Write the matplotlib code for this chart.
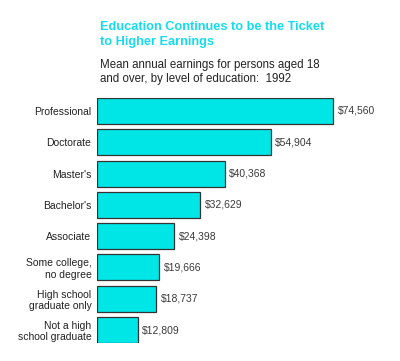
import matplotlib
matplotlib.use("Agg")
import matplotlib.pyplot as plt

# data
levels = ["Professional", "Doctorate", "Master's", "Bachelor's", "Associate",
          "Some college,\nno degree", "High school\ngraduate only",
          "Not a high\nschool graduate"]
earnings = [74560, 54904, 40368, 32629, 24398, 19666, 18737, 12809]

plt.rcParams["font.family"] = ["Liberation Sans", "DejaVu Sans"]

fig = plt.figure(figsize=(4, 3.61), dpi=100)
ax = fig.add_axes([0.2425, 0.0499, 0.6325, 0.6787])

pos = list(range(len(levels)))
ax.barh(pos, earnings, height=0.83, color="#00E6E6", edgecolor="#333333", linewidth=0.9)
for p, v in zip(pos, earnings):
    ax.text(v + 1500, p, f"${v:,}", va="center", ha="left", fontsize=7.5, color="#3a3a3a")

ax.set_xlim(0, 80000)
ax.set_ylim(len(levels) - 1 + 0.415, -0.415)
ax.set_yticks(pos)
ax.set_yticklabels(levels, fontsize=7.5, color="#222222", linespacing=1.15)
ax.tick_params(axis="y", length=0, pad=4)
ax.set_xticks([])
for s in ax.spines.values():
    s.set_visible(False)

fig.text(100 / 400, 1 - 21 / 361, "Education Continues to be the Ticket\nto Higher Earnings",
         ha="left", va="top", fontsize=9.2, fontweight="bold", color="#14DCEE", linespacing=1.3)
fig.text(100 / 400, 1 - 59 / 361, "Mean annual earnings for persons aged 18\nand over, by level of education:  1992",
         ha="left", va="top", fontsize=8.3, color="#222222", linespacing=1.2)

fig.savefig("out.png", dpi=100)
